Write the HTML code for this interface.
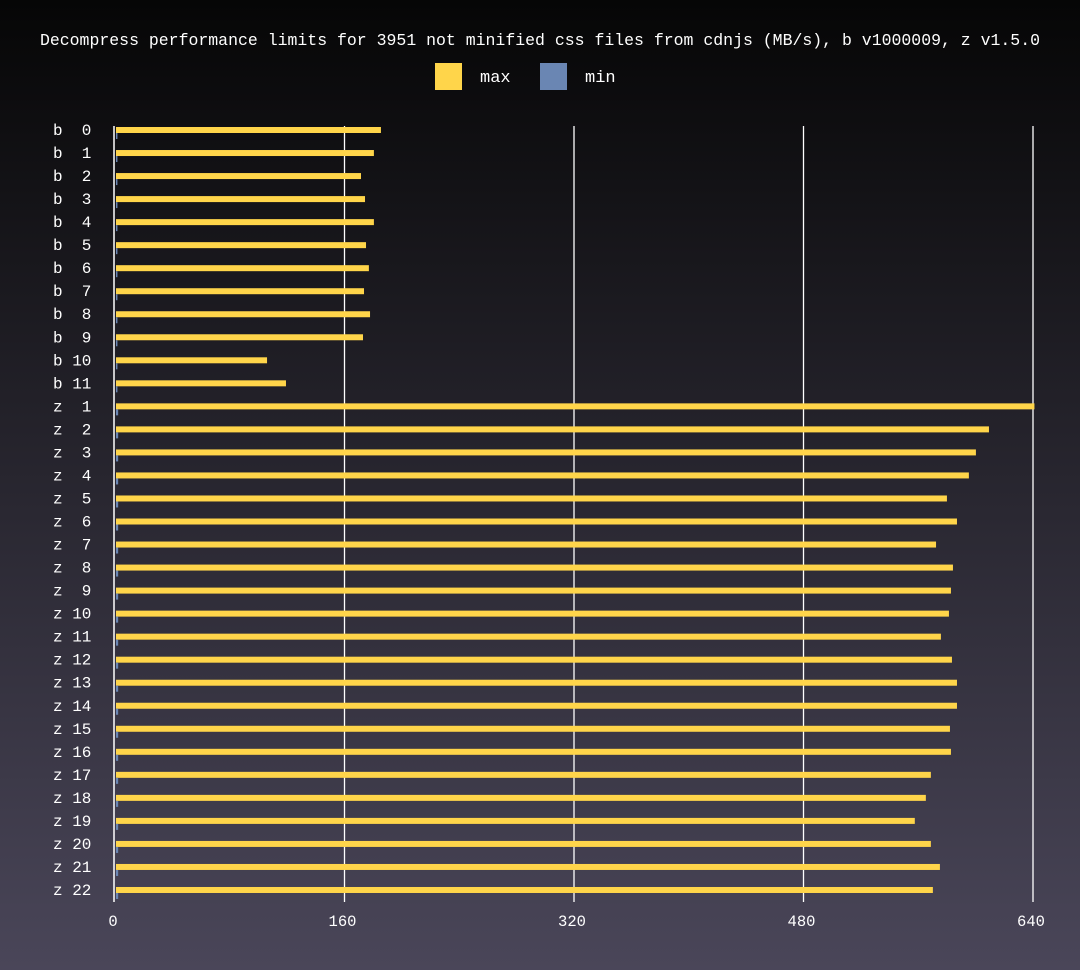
<!DOCTYPE html>
<html><head><meta charset="utf-8"><style>
html,body{margin:0;padding:0}
body{width:1080px;height:970px;background:linear-gradient(#060606,#4a4659);font-family:"Liberation Mono",monospace;color:#fff;overflow:hidden}
svg{display:block}
svg text{font-family:"Liberation Mono",monospace;fill:#fff}
</style></head><body>
<svg id="chart" width="1080" height="970" xmlns="http://www.w3.org/2000/svg">
<text x="540" y="45" text-anchor="middle" font-size="16.5">Decompress performance limits for 3951 not minified css files from cdnjs (MB/s), b v1000009, z v1.5.0</text>
<g>
<rect x="435" y="63" width="27" height="27" fill="#ffd54a"/>
<text x="480" y="82" font-size="17">max</text>
<rect x="540" y="63" width="27" height="27" fill="#6a86b3"/>
<text x="585" y="82" font-size="17">min</text>
</g>
<g id="grid"></g><g id="bars"></g><g id="labels"></g>
</svg>
<script>
const categories=["b  0","b  1","b  2","b  3","b  4","b  5","b  6","b  7","b  8","b  9","b 10","b 11","z  1","z  2","z  3","z  4","z  5","z  6","z  7","z  8","z  9","z 10","z 11","z 12","z 13","z 14","z 15","z 16","z 17","z 18","z 19","z 20","z 21","z 22"];
const maxValues=[185.4,180.5,171.5,174.3,180.5,175,177,173.6,177.8,172.9,106,119.2,641,609.3,600.2,595.3,580,587,572.4,584.2,582.8,581.4,575.8,583.5,587,587,582.1,582.8,568.8,565.3,557.6,568.8,575.1,570.2];
const minValues=[1,1,1,1,1,1,1,1,1,1,1,1,1.5,1.5,1.5,1.5,1.5,1.5,1.5,1.5,1.5,1.5,1.5,1.5,1.5,1.5,1.5,1.5,1.5,1.5,1.5,1.5,1.5,1.5];
const ticks=[0,160,320,480,640];
const NS="http://www.w3.org/2000/svg";
const x0=115,xs=(1033-115)/640;
function xp(v){return x0+v*xs;}
function yp(i){return 130+i*23.03;}
function mk(tag,attrs,parent){const e=document.createElementNS(NS,tag);for(const k in attrs)e.setAttribute(k,attrs[k]);document.getElementById(parent).appendChild(e);return e;}
ticks.forEach((t,i)=>{
  if(i>0){const l=mk('line',{x1:xp(t),x2:xp(t),y1:126,y2:902,stroke:'#fff','stroke-width':1.3},'grid');
  
  }
  const tx=mk('text',{x:xp(t)-2,y:926,'text-anchor':'middle','font-size':15.5},'labels');tx.textContent=t;
  
  
});
const ax=mk('line',{x1:x0-1,x2:x0-1,y1:126,y2:902,stroke:'#fff','stroke-width':1.5},'grid');


categories.forEach((c,i)=>{
  const y=yp(i);
  const b=mk('rect',{x:x0+1,y:y-3,width:Math.max(0,xp(maxValues[i])-x0-1),height:6,fill:'#ffd54a'},'bars');
  
  
  const m=mk('rect',{x:x0+1,y:y+3,width:Math.max(0,xp(minValues[i])-x0),height:6,fill:'#6a86b3'},'bars');
  
  
  const t=mk('text',{x:53,y:y+5,'font-size':16},'labels');t.textContent=c;
  t.setAttribute('style','white-space:pre');
  
  
});
</script>
</body></html>
